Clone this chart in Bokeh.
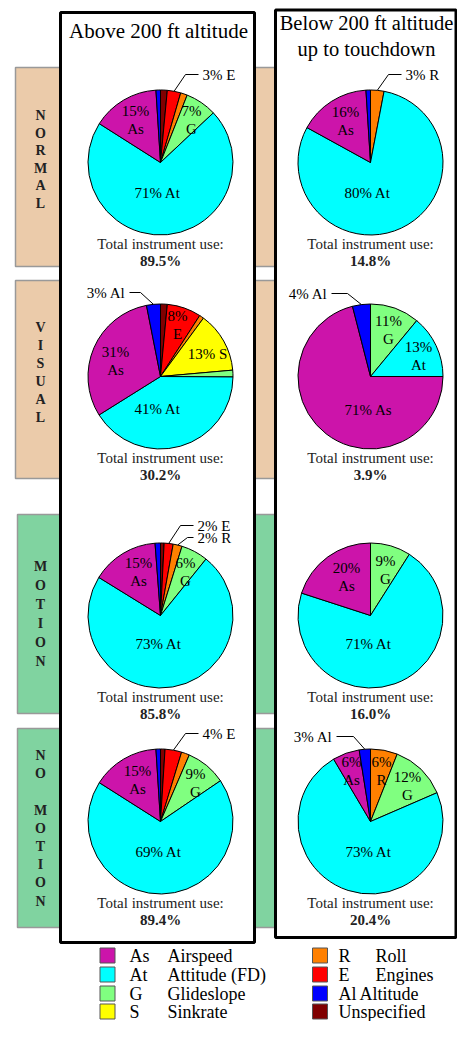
import math
from bokeh.plotting import figure
from bokeh.models import Range1d
from bokeh.embed import file_html
from bokeh.resources import INLINE
from bokeh.core.properties import value

# ---------------- DATA ----------------
# slice order, clockwise from 12 o'clock
categories = ["Unspecified", "E", "R", "S", "G", "At", "As", "Al"]
conditions = ["NORMAL", "VISUAL", "MOTION", "NO MOTION"]
phase_titles = [["Above 200 ft altitude"], ["Below 200 ft altitude", "up to touchdown"]]

normal_above = [1.5, 3.0, 1.5, 0.0, 7.0, 71.0, 15.0, 1.0]
normal_below = [0.0, 0.0, 3.0, 0.0, 0.0, 80.0, 16.0, 1.0]
visual_above = [1.5, 7.6, 1.0, 13.5, 1.5, 41.0, 30.8, 3.1]
visual_below = [0.0, 0.0, 0.0, 0.0, 11.0, 14.0, 71.0, 4.0]
motion_above = [0.8, 2.0, 2.0, 0.0, 6.0, 73.0, 15.0, 1.2]
motion_below = [0.0, 0.0, 0.0, 0.0, 9.0, 71.0, 20.0, 0.0]
nomotion_above = [1.0, 3.7, 1.8, 0.0, 9.0, 68.5, 15.0, 1.0]
nomotion_below = [0.0, 0.0, 6.0, 0.0, 12.5, 73.0, 6.0, 2.5]

total_use = ["89.5%", "14.8%", "30.2%", "3.9%", "85.8%", "16.0%", "89.4%", "20.4%"]

# inner labels (category, lines) and outside labels (category, text)
normal_above_labels = [("As", ["15%", "As"]), ("G", ["7%", "G"]), ("At", ["71% At"])]
normal_below_labels = [("As", ["16%", "As"]), ("At", ["80% At"])]
visual_above_labels = [("E", ["8%", "E"]), ("S", ["13% S"]), ("As", ["31%", "As"]), ("At", ["41% At"])]
visual_below_labels = [("G", ["11%", "G"]), ("At", ["13%", "At"]), ("As", ["71% As"])]
motion_above_labels = [("As", ["15%", "As"]), ("G", ["6%", "G"]), ("At", ["73% At"])]
motion_below_labels = [("G", ["9%", "G"]), ("As", ["20%", "As"]), ("At", ["71% At"])]
nomotion_above_labels = [("As", ["15%", "As"]), ("G", ["9%", "G"]), ("At", ["69% At"])]
nomotion_below_labels = [("As", ["6%", "As"]), ("R", ["6%", "R"]), ("G", ["12%", "G"]), ("At", ["73% At"])]

normal_above_out = [("E", "3% E")]
normal_below_out = [("R", "3% R")]
visual_above_out = [("Al", "3% Al")]
visual_below_out = [("Al", "4% Al")]
motion_above_out = [("E", "2% E"), ("R", "2% R")]
motion_below_out = []
nomotion_above_out = [("E", "4% E")]
nomotion_below_out = [("Al", "3% Al")]

legend_left_codes = ["As", "At", "G", "S"]
legend_left_names = ["Airspeed", "Attitude (FD)", "Glideslope", "Sinkrate"]
legend_right_codes = ["R", "E", "Al", ""]
legend_right_names = ["Roll", "Engines", "Altitude", "Unspecified"]
legend_left_colors = ["As", "At", "G", "S"]
legend_right_colors = ["R", "E", "Al", "Unspecified"]

# ---------------- STYLE / LAYOUT ----------------
COLORS = {"As": "#CC14AA", "At": "#00FFFF", "G": "#80FF80", "S": "#FFFF00",
          "R": "#FF8000", "E": "#FF0000", "Al": "#0000FF", "Unspecified": "#800000"}
SERIF = value("Liberation Serif")
TAN, GREEN = "#EBCBAA", "#80D3A0"

W, H = 457, 1021

def Y(v):
    return -v

p = figure(width=W, height=H, x_range=Range1d(0, W), y_range=Range1d(-H, 0),
           output_backend="svg", toolbar_location=None, min_border=0,
           x_axis_location=None, y_axis_location=None)
p.grid.visible = False
p.outline_line_color = None
p.background_fill_color = "white"
p.border_fill_color = "white"

# condition bands
band_top = [67, 280, 514, 728]
band_bot = [266, 478, 713, 927]
band_left = [15, 15, 17, 17]
band_col = [TAN, TAN, GREEN, GREEN]
p.quad(left=band_left, right=[490] * 4, top=[Y(t) for t in band_top], bottom=[Y(b) for b in band_bot],
       fill_color=band_col, line_color="#999999", line_width=1.5)

# vertical lettering
band_letter_start = [115, 327, 566, 755]
band_letter_step = [17.5, 18.0, 19.0, 18.2]
for ci, cond in enumerate(conditions):
    lx, ly, lt = [], [], []
    for k, ch in enumerate(cond):
        if ch != " ":
            lx.append(40)
            ly.append(Y(band_letter_start[ci] + k * band_letter_step[ci]))
            lt.append(ch)
    p.text(x=lx, y=ly, text=lt, text_align="center", text_baseline="middle",
           text_font=SERIF, text_font_style="bold", text_font_size="14px", text_color="#222222")

# column boxes
p.quad(left=[60, 275], right=[254, 455.5], top=[Y(12), Y(9.5)], bottom=[Y(942), Y(937)],
       fill_color="white", line_color="black", line_width=3)

# column titles
title_pos = [[(158, 30)], [(366, 22), (366, 48)]]
title_size = ["21px", "20.5px"]
for col in range(2):
    for line, (tx, ty) in zip(phase_titles[col], title_pos[col]):
        p.text(x=[tx], y=[Y(ty)], text=[line], text_align="center", text_baseline="middle",
               text_font=SERIF, text_font_size=title_size[col], text_color="black")

pies = [normal_above, normal_below, visual_above, visual_below,
        motion_above, motion_below, nomotion_above, nomotion_below]
pie_labels = [normal_above_labels, normal_below_labels, visual_above_labels, visual_below_labels,
              motion_above_labels, motion_below_labels, nomotion_above_labels, nomotion_below_labels]
pie_out = [normal_above_out, normal_below_out, visual_above_out, visual_below_out,
           motion_above_out, motion_below_out, nomotion_above_out, nomotion_below_out]

COL_X = [160, 370]
ROW_Y = [162, 376, 615, 821]
R = 72.5

# inner label offsets (dx, dy) from pie centre, page pixels
label_off = {
    0: {"As": (-25, -43), "G": (31, -43), "At": (-3, 30)},
    1: {"As": (-25, -42), "At": (-3, 30)},
    2: {"E": (17, -52), "S": (47, -23), "As": (-45, -16), "At": (-3, 32)},
    3: {"G": (18, -47), "At": (48, -21), "As": (-2, 33)},
    4: {"As": (-22, -44), "G": (25, -44), "At": (-2, 28)},
    5: {"G": (15, -46), "As": (-24, -39), "At": (-2, 28)},
    6: {"As": (-23, -42), "G": (35, -39), "At": (-2, 30)},
    7: {"As": (-19, -51), "R": (11, -51), "G": (37, -36), "At": (-2, 30)},
}
# outside label: text anchor (dx, dy), side, elbow gap
out_off = {
    0: {"E": (42, -88, "right", 17)},
    1: {"R": (35, -88, "right", 17)},
    2: {"Al": (-35, -84, "left", 15)},
    3: {"Al": (-43, -83, "left", 20)},
    4: {"E": (37, -90, "right", 17), "R": (37, -78, "right", 10)},
    6: {"E": (42, -88, "right", 17)},
    7: {"Al": (-38, -85, "left", 21)},
}

for i, vals in enumerate(pies):
    row, col = divmod(i, 2)
    cx, cy = COL_X[col], ROW_Y[row]
    total = sum(vals)
    cum = 0.0
    mids = {}
    wx, wy, sa, ea, fc = [], [], [], [], []
    for cat, v in zip(categories, vals):
        if v > 0:
            t0 = cum / total * 360.0
            t1 = (cum + v) / total * 360.0
            wx.append(cx); wy.append(Y(cy))
            sa.append(math.radians(90 - t1)); ea.append(math.radians(90 - t0))
            fc.append(COLORS[cat])
            mids[cat] = (t0 + t1) / 2
        cum += v
    p.wedge(x=wx, y=wy, radius=R, start_angle=sa, end_angle=ea,
            direction="anticlock", fill_color=fc, line_color="black", line_width=1)

    # inner labels
    for cat, lines in pie_labels[i]:
        dx, dy = label_off[i][cat]
        n = len(lines)
        for k, ln in enumerate(lines):
            ly = cy + dy + (k - (n - 1) / 2) * 18
            p.text(x=[cx + dx], y=[Y(ly)], text=[ln], text_align="center", text_baseline="middle",
                   text_font=SERIF, text_font_size="15px", text_color="black")

    # outside labels with leader lines
    for cat, txt in pie_out[i]:
        dx, dy, side, gap = out_off[i][cat]
        tx, ty = cx + dx, cy + dy
        th = math.radians(mids[cat])
        ex, ey = cx + R * math.sin(th), cy - R * math.cos(th)
        if side == "right":
            xs = [ex, tx - gap, tx - 4]
            align = "left"
        else:
            xs = [ex, tx + gap, tx + 4]
            align = "right"
        p.line(x=xs, y=[Y(ey), Y(ty), Y(ty)], line_color="black", line_width=1)
        p.text(x=[tx], y=[Y(ty)], text=[txt], text_align=align, text_baseline="middle",
               text_font=SERIF, text_font_size="15px", text_color="black")

    # totals
    p.text(x=[cx], y=[Y(cy + 81)], text=["Total instrument use:"], text_align="center",
           text_baseline="middle", text_font=SERIF, text_font_size="15px", text_color="#222222")
    p.text(x=[cx], y=[Y(cy + 98)], text=[total_use[i]], text_align="center",
           text_baseline="middle", text_font=SERIF, text_font_size="15px", text_font_style="bold",
           text_color="#222222")

# legend
leg_rows = [955, 974, 993, 1011]
LEG_FS = "18px"
p.rect(x=[107] * 4, y=[Y(r) for r in leg_rows], width=15, height=15,
       fill_color=[COLORS[c] for c in legend_left_colors], line_color="#555555", line_width=1)
p.rect(x=[319.5] * 4, y=[Y(r) for r in leg_rows], width=15, height=15,
       fill_color=[COLORS[c] for c in legend_right_colors], line_color="#555555", line_width=1)
p.text(x=[129] * 4, y=[Y(r) for r in leg_rows], text=legend_left_codes, text_baseline="middle",
       text_font=SERIF, text_font_size=LEG_FS, text_color="black")
p.text(x=[167] * 4, y=[Y(r) for r in leg_rows], text=legend_left_names, text_baseline="middle",
       text_font=SERIF, text_font_size=LEG_FS, text_color="black")
p.text(x=[338] * 4, y=[Y(r) for r in leg_rows], text=legend_right_codes, text_baseline="middle",
       text_font=SERIF, text_font_size=LEG_FS, text_color="black")
right_name_x = [375, 375, 359, 338]
p.text(x=right_name_x, y=[Y(r) for r in leg_rows], text=legend_right_names, text_baseline="middle",
       text_font=SERIF, text_font_size=LEG_FS, text_color="black")

open("out.html", "w").write(file_html(p, INLINE))
